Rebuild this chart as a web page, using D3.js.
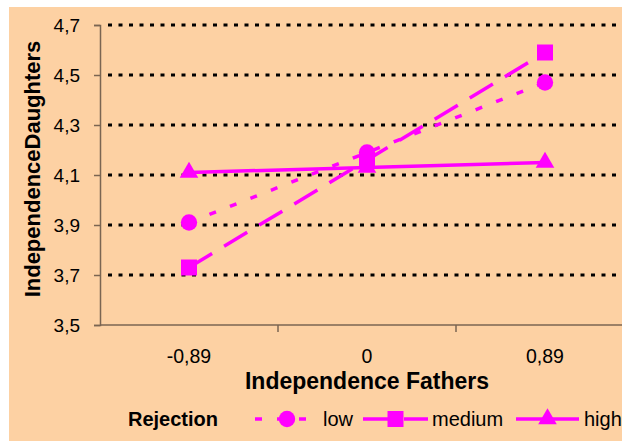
<!DOCTYPE html>
<html>
<head>
<meta charset="utf-8">
<script src="https://cdn.jsdelivr.net/npm/d3@7"></script>
<style>
  html, body { margin: 0; padding: 0; background: #fff; }
  svg { display: block; font-family: "Liberation Sans", Arial, sans-serif; }
</style>
</head>
<body>
<div id="chart"></div>
<script>
// Données
const categories = ["-0,89", "0", "0,89"];
const yTicks = [3.5, 3.7, 3.9, 4.1, 4.3, 4.5, 4.7];
const lowValues    = [3.91, 4.19, 4.47];
const mediumValues = [3.73, 4.16, 4.59];
const highValues   = [4.11, 4.13, 4.15];
const seriesNames  = ["low", "medium", "high"];

const series = [
  { name: seriesNames[0], values: lowValues,    dash: "7,15",  symbol: d3.symbolCircle },
  { name: seriesNames[1], values: mediumValues, dash: "27,14", symbol: d3.symbolSquare },
  { name: seriesNames[2], values: highValues,   dash: null,    symbol: d3.symbolTriangle }
];

const width = 622, height = 441;
const margin = { top: 25, left: 100, bottom: 325 };
const pink = "#FF00FF";
const axisColor = "#7a6552";

const svg = d3.select("#chart").append("svg")
  .attr("width", width)
  .attr("height", height);

// Fond
svg.append("rect")
  .attr("x", 9).attr("y", 7)
  .attr("width", width - 9).attr("height", height - 7)
  .attr("fill", "#FDD1A3");

const x = d3.scaleBand()
  .domain(categories)
  .range([margin.left, 634]);

const y = d3.scaleLinear()
  .domain([3.5, 4.7])
  .range([margin.bottom, margin.top]);

// Grille pointillée
svg.append("g")
  .selectAll("line")
  .data(yTicks.filter(d => d > 3.5))
  .join("line")
  .attr("x1", margin.left + 8)
  .attr("x2", width)
  .attr("y1", d => y(d))
  .attr("y2", d => y(d))
  .attr("stroke", "#000")
  .attr("stroke-width", 3)
  .attr("stroke-dasharray", "4,6.5");

// Axe Y
const yAxis = svg.append("g")
  .attr("transform", `translate(${margin.left},0)`)
  .call(d3.axisLeft(y).tickValues(yTicks).tickSize(6).tickPadding(14)
    .tickFormat(d => d3.format(".1f")(d).replace(".", ",")));
yAxis.select(".domain").attr("stroke", axisColor).attr("stroke-width", 1.5);
yAxis.selectAll(".tick line").attr("stroke", axisColor).attr("stroke-width", 1.5);
yAxis.selectAll(".tick text")
  .attr("font-size", 19).attr("fill", "#000")
  .attr("font-family", "Liberation Sans, Arial, sans-serif");

// Axe X (graduations entre les catégories)
const xAxisG = svg.append("g")
  .attr("transform", `translate(0,${margin.bottom})`);
xAxisG.append("line")
  .attr("x1", margin.left).attr("x2", width)
  .attr("stroke", axisColor).attr("stroke-width", 1.5);
xAxisG.selectAll("line.tk")
  .data(categories.slice(1))
  .join("line")
  .attr("class", "tk")
  .attr("x1", d => x(d)).attr("x2", d => x(d))
  .attr("y1", 0).attr("y2", 7)
  .attr("stroke", axisColor).attr("stroke-width", 1.5);
xAxisG.selectAll("text")
  .data(categories)
  .join("text")
  .attr("x", d => x(d) + x.bandwidth() / 2)
  .attr("y", 38)
  .attr("text-anchor", "middle")
  .attr("font-size", 19.5)
  .text(d => d);

// Titres des axes
svg.append("text")
  .attr("x", 367).attr("y", 389)
  .attr("text-anchor", "middle")
  .attr("font-size", 23).attr("font-weight", "bold")
  .text("Independence Fathers");

svg.append("text")
  .attr("transform", "translate(40,169) rotate(-90)")
  .attr("text-anchor", "middle")
  .attr("font-size", 22).attr("font-weight", "bold")
  .text("IndependenceDaughters");

// Séries
const line = d3.line()
  .x((d, i) => x(categories[i]) + x.bandwidth() / 2)
  .y(d => y(d));

const symbolSize = s => s === d3.symbolCircle ? 210 : s === d3.symbolSquare ? 256 : 150;

series.forEach(s => {
  svg.append("path")
    .datum(s.values)
    .attr("d", line)
    .attr("fill", "none")
    .attr("stroke", pink)
    .attr("stroke-width", 3.5)
    .attr("stroke-dasharray", s.dash);

  svg.selectAll(null)
    .data(s.values)
    .join("path")
    .attr("transform", (d, i) =>
      `translate(${x(categories[i]) + x.bandwidth() / 2},${y(d)})`)
    .attr("d", d3.symbol(s.symbol, symbolSize(s.symbol)))
    .attr("fill", pink);
});

// Légende
const legendY = 419;
svg.append("text")
  .attr("x", 128).attr("y", legendY + 7)
  .attr("font-size", 20).attr("font-weight", "bold")
  .text("Rejection");

const legendItems = [
  { s: series[0], x1: 255, x2: 307, tx: 323 },
  { s: series[1], x1: 363, x2: 428, tx: 432 },
  { s: series[2], x1: 516, x2: 579, tx: 584 }
];

legendItems.forEach(it => {
  svg.append("line")
    .attr("x1", it.x1).attr("x2", it.x2)
    .attr("y1", legendY).attr("y2", legendY)
    .attr("stroke", pink).attr("stroke-width", 3.5)
    .attr("stroke-dasharray", it.s.dash);
  svg.append("path")
    .attr("transform", `translate(${(it.x1 + it.x2) / 2 + (it.s.symbol === d3.symbolCircle ? 6 : 0)},${legendY})`)
    .attr("d", d3.symbol(it.s.symbol, symbolSize(it.s.symbol)))
    .attr("fill", pink);
  svg.append("text")
    .attr("x", it.tx).attr("y", legendY + 7)
    .attr("font-size", 20)
    .text(it.s.name);
});
</script>
</body>
</html>
